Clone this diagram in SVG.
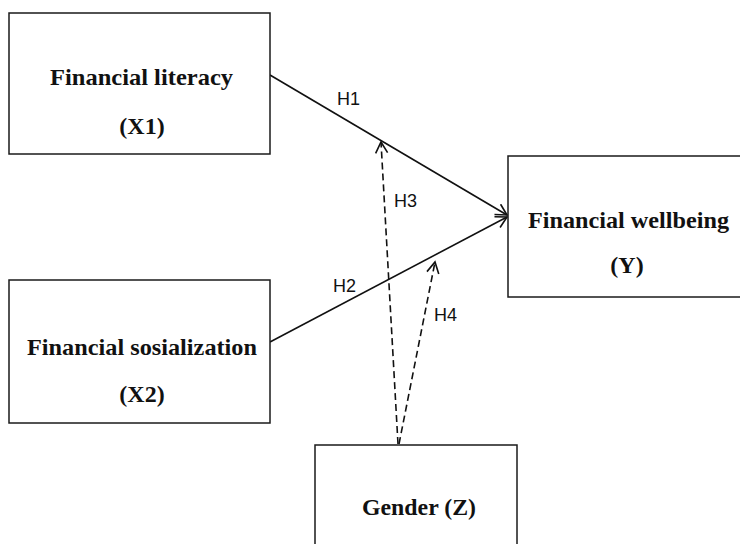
<svg xmlns="http://www.w3.org/2000/svg" width="740" height="544" viewBox="0 0 740 544">
<style>
.box{fill:#fff;stroke:#1a1a1a;stroke-width:1.5}
.t{font-family:"Liberation Serif","Times New Roman",serif;font-weight:bold;font-size:24px;fill:#111}
.lbl{font-family:"Liberation Sans",Arial,sans-serif;font-size:18px;fill:#111}
.ln{stroke:#111;stroke-width:1.6;fill:none}
.dash{stroke-dasharray:7 4}
</style>
<defs>
<marker id="ah" markerUnits="userSpaceOnUse" markerWidth="14" markerHeight="14" refX="12" refY="7" orient="auto">
<path d="M1,1 L12,7 L1,13" fill="none" stroke="#111" stroke-width="1.6"/>
</marker>
</defs>
<rect width="740" height="544" fill="#fff"/>
<g id="connectors">
<line class="ln" x1="270" y1="75" x2="507" y2="215" marker-end="url(#ah)"/>
<line class="ln" x1="270" y1="342" x2="507" y2="217" marker-end="url(#ah)"/>
<line class="ln dash" x1="398" y1="444" x2="381" y2="142" marker-end="url(#ah)"/>
<line class="ln dash" x1="399" y1="444" x2="435" y2="262" marker-end="url(#ah)"/>
<text class="lbl" x="337" y="105">H1</text>
<text class="lbl" x="333" y="292">H2</text>
<text class="lbl" x="394" y="207">H3</text>
<text class="lbl" x="434" y="321">H4</text>
</g>
<g id="x1">
<rect class="box" x="9" y="13" width="261" height="141"/>
<text class="t" x="50" y="85" textLength="183" lengthAdjust="spacingAndGlyphs">Financial literacy</text>
<text class="t" x="142" y="134" text-anchor="middle">(X1)</text>
</g>
<g id="x2">
<rect class="box" x="9" y="280" width="261" height="143"/>
<text class="t" x="27" y="355" textLength="230" lengthAdjust="spacingAndGlyphs">Financial sosialization</text>
<text class="t" x="142" y="402" text-anchor="middle">(X2)</text>
</g>
<g id="y">
<rect class="box" x="508" y="156" width="245" height="141"/>
<text class="t" x="528" y="228" textLength="201" lengthAdjust="spacingAndGlyphs">Financial wellbeing</text>
<text class="t" x="627" y="273" text-anchor="middle">(Y)</text>
</g>
<g id="z">
<rect class="box" x="315" y="445" width="202" height="110"/>
<text class="t" x="362" y="515" textLength="114" lengthAdjust="spacingAndGlyphs">Gender (Z)</text>
</g>
</svg>
